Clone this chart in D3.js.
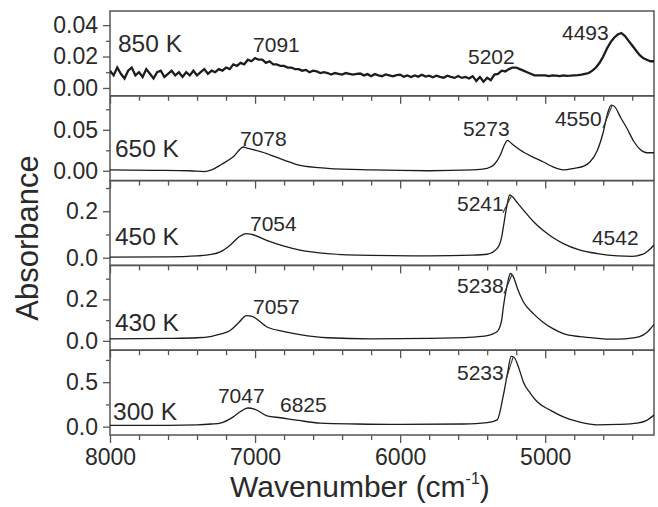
<!DOCTYPE html>
<html>
<head>
<meta charset="utf-8">
<script src="https://cdn.jsdelivr.net/npm/d3@7"></script>
<style>
  body { margin: 0; background: #fff; }
  svg { display: block; font-family: "Liberation Sans", Arial, sans-serif; }
  .frame { fill: none; stroke: #555; stroke-width: 1.5; }
  .tick line { stroke: #555; stroke-width: 1.3; }
  .tick text { fill: #2a2a2a; font-size: 23px; }
  .spec { fill: none; stroke: #1c1c1c; stroke-width: 1.3; }
  .lbl { fill: #2a2a2a; }
</style>
</head>
<body>
<svg id="chart" width="658" height="507"></svg>
<script>
"use strict";

// panels, top to bottom
var temps = ["850 K", "650 K", "450 K", "430 K", "300 K"];
var yDomains = [[-0.005, 0.049], [-0.012, 0.0915], [-0.033, 0.332], [-0.045, 0.364], [-0.094, 0.86]];
var yMajor = [[0, 0.02, 0.04], [0, 0.05], [0, 0.2], [0, 0.2], [0, 0.5]];
var yMinor = [[0.01, 0.03], [0.025, 0.075], [0.1, 0.3], [0.1, 0.3], [0.25, 0.75]];
var yFormats = [".2f", ".2f", ".1f", ".1f", ".1f"];

var wnMajor = [8000, 7000, 6000, 5000];
var wnMinor = [7800, 7600, 7400, 7200, 6800, 6600, 6400, 6200, 5800, 5600, 5400, 5200, 4800, 4600, 4400];

// 850 K, sampled every 25 cm-1 from 8000 (noisy)
var wn850Start = 8000, wn850Step = 25;
var abs850 = [
  0.011, 0.008, 0.013, 0.009, 0.006, 0.011, 0.013, 0.008, 0.010, 0.007,
  0.012, 0.009, 0.006, 0.010, 0.011, 0.007, 0.009, 0.011, 0.008, 0.010,
  0.007, 0.010, 0.008, 0.011, 0.008, 0.010, 0.012, 0.009, 0.011, 0.010,
  0.012, 0.011, 0.013, 0.012, 0.015, 0.014, 0.016, 0.015, 0.018, 0.017,
  0.019, 0.018, 0.018, 0.016, 0.017, 0.015, 0.015, 0.014, 0.014, 0.013,
  0.013, 0.012, 0.012, 0.011, 0.0115, 0.010, 0.011, 0.0105, 0.0095, 0.010,
  0.0095, 0.0085, 0.0095, 0.009, 0.0085, 0.0095, 0.009, 0.0085, 0.009, 0.0092,
  0.008, 0.0088, 0.0075, 0.0088, 0.008, 0.0075, 0.0086, 0.008, 0.0074, 0.0082,
  0.0085, 0.0072, 0.008, 0.007, 0.008, 0.0072, 0.0084, 0.0072, 0.0078, 0.0068,
  0.0078, 0.007, 0.0065, 0.0078, 0.007, 0.0064, 0.0076, 0.0064, 0.007, 0.006,
  0.0075, 0.0045, 0.007, 0.004, 0.0065, 0.005, 0.0085, 0.009, 0.011, 0.0105,
  0.012, 0.013, 0.013, 0.012, 0.011, 0.010, 0.009, 0.008, 0.008, 0.008,
  0.008, 0.0075, 0.008, 0.0078, 0.0075, 0.008, 0.0077, 0.0078, 0.008, 0.0082,
  0.0085, 0.009, 0.0095, 0.011, 0.013, 0.016, 0.020, 0.025, 0.029, 0.032,
  0.034, 0.035, 0.033, 0.030, 0.027, 0.024, 0.021, 0.019, 0.018, 0.017,
  0.017
];

var abs650 = [
  [8000, 0.001], [7700, 0.0005], [7450, 0.000], [7350, -0.001], [7300, 0.001],
  [7230, 0.008], [7150, 0.017], [7080, 0.029], [7060, 0.028], [6920, 0.021],
  [6800, 0.013], [6690, 0.0065], [6500, 0.003], [6200, 0.001], [5800, 0.000],
  [5500, 0.001], [5400, 0.003], [5350, 0.008], [5310, 0.019], [5280, 0.032],
  [5260, 0.037], [5230, 0.033], [5170, 0.025], [5100, 0.018], [5015, 0.011],
  [4950, 0.005], [4875, 0.001], [4800, 0.003], [4730, 0.006], [4690, 0.011],
  [4640, 0.025], [4600, 0.047], [4570, 0.070], [4545, 0.080], [4520, 0.078],
  [4480, 0.065], [4434, 0.051], [4390, 0.036], [4345, 0.026], [4300, 0.022],
  [4250, 0.022]
];

var abs450 = [
  [8000, 0.003], [7600, 0.004], [7400, 0.008], [7300, 0.014], [7240, 0.025],
  [7170, 0.055], [7110, 0.090], [7060, 0.104], [7020, 0.100], [6920, 0.075],
  [6800, 0.050], [6690, 0.033], [6500, 0.018], [6200, 0.010], [5800, 0.008],
  [5500, 0.011], [5400, 0.015], [5331, 0.040], [5300, 0.090], [5290, 0.126],
  [5265, 0.220], [5245, 0.270], [5225, 0.262], [5190, 0.235], [5150, 0.205],
  [5080, 0.155], [5015, 0.118], [4950, 0.088], [4875, 0.061], [4760, 0.033],
  [4640, 0.018], [4500, 0.008], [4400, 0.006], [4330, 0.014], [4290, 0.030],
  [4250, 0.055]
];

var abs430 = [
  [8000, 0.010], [7600, 0.012], [7400, 0.015], [7300, 0.022], [7240, 0.032],
  [7172, 0.050], [7110, 0.090], [7060, 0.122], [7020, 0.118], [6917, 0.067],
  [6800, 0.045], [6690, 0.030], [6500, 0.015], [6200, 0.010], [5800, 0.012],
  [5500, 0.018], [5400, 0.025], [5331, 0.045], [5300, 0.100], [5290, 0.155],
  [5262, 0.270], [5240, 0.325], [5220, 0.310], [5190, 0.250], [5152, 0.190],
  [5080, 0.130], [5015, 0.090], [4950, 0.060], [4875, 0.035], [4760, 0.020],
  [4640, 0.012], [4550, 0.008], [4450, 0.010], [4350, 0.020], [4300, 0.040],
  [4276, 0.057], [4250, 0.080]
];

var abs300 = [
  [8000, 0.015], [7600, 0.015], [7400, 0.020], [7300, 0.030], [7240, 0.040],
  [7150, 0.110], [7100, 0.170], [7050, 0.210], [7000, 0.195], [6917, 0.120],
  [6825, 0.100], [6700, 0.070], [6550, 0.040], [6300, 0.030], [6000, 0.025],
  [5565, 0.030], [5400, 0.045], [5331, 0.076], [5290, 0.340], [5260, 0.600],
  [5235, 0.790], [5215, 0.780], [5180, 0.650], [5150, 0.500], [5100, 0.370],
  [5055, 0.280], [4960, 0.180], [4875, 0.110], [4760, 0.050], [4640, 0.020],
  [4500, 0.025], [4365, 0.040], [4300, 0.070], [4250, 0.130]
];

// temperature labels, anchored in data units of each panel
var tempLabelAt = [[7945, 0.0226], [7966, 0.0172], [7966, 0.0528], [7966, 0.0477], [7979, 0.076]];

// peak labels: panel, text, anchor (wavenumber, absorbance)
var peakLabels = [
  [0, "7091", 7014, 0.0226], [0, "5202", 5532, 0.0151], [0, "4493", 4884, 0.0308],
  [1, "7078", 7104, 0.0306], [1, "5273", 5567, 0.0427], [1, "4550", 4933, 0.0549],
  [2, "7054", 7035, 0.117], [2, "5241", 5608, 0.199], [2, "4542", 4678, 0.0528],
  [3, "7057", 7014, 0.130], [3, "5238", 5608, 0.233],
  [4, "7047", 7256, 0.269], [4, "6825", 6828, 0.167], [4, "5233", 5608, 0.530]
];

// short leader strokes from label to peak
var leaders = [
  [1, 4602, 0.052, 4540, 0.0792],
  [2, 5291, 0.194, 5236, 0.263],
  [3, 5284, 0.228, 5229, 0.320],
  [4, 5270, 0.530, 5222, 0.780]
];

var svg = d3.select("#chart");
var plotL = 110, plotR = 654, plotT = 11, ph = 84.8;

var x = d3.scaleLinear().domain([8000, 4250]).range([plotL, plotR]);

var series = [
  abs850.map(function(v, i) { return [wn850Start - i * wn850Step, v]; }),
  abs650, abs450, abs430, abs300
];

var ys = yDomains.map(function(dom, i) {
  var y0 = plotT + i * ph;
  return d3.scaleLinear().domain(dom).range([y0 + ph, y0]);
});

ys.forEach(function(y, i) {
  var y0 = plotT + i * ph;
  var g = svg.append("g");

  g.append("clipPath").attr("id", "clip" + i)
    .append("rect").attr("x", plotL).attr("y", y0).attr("width", plotR - plotL).attr("height", ph);

  // bottom ticks
  var ax = g.append("g").attr("transform", "translate(0," + (y0 + ph) + ")");
  ax.call(d3.axisBottom(x).tickValues(wnMinor).tickSize(5).tickFormat(""));
  ax.append("g").call(d3.axisBottom(x).tickValues(wnMajor).tickSize(8).tickPadding(6)
    .tickFormat(i === 4 ? d3.format("d") : ""));

  // left ticks
  var ay = g.append("g").attr("transform", "translate(" + plotL + ",0)");
  ay.call(d3.axisLeft(y).tickValues(yMinor[i]).tickSize(4).tickFormat(""));
  ay.append("g").call(d3.axisLeft(y).tickValues(yMajor[i]).tickSize(7).tickPadding(5)
    .tickFormat(d3.format(yFormats[i])));

  g.selectAll(".domain").remove();

  g.append("rect").attr("class", "frame")
    .attr("x", plotL).attr("y", y0).attr("width", plotR - plotL).attr("height", ph);

  var line = d3.line()
    .x(function(d) { return x(d[0]); })
    .y(function(d) { return y(d[1]); })
    .curve(i === 0 ? d3.curveLinear : d3.curveMonotoneX);

  g.append("path").attr("class", "spec")
    .attr("clip-path", "url(#clip" + i + ")")
    .style("stroke-width", i === 0 ? 2.3 : 1.3)
    .attr("d", line(series[i]));

  g.append("text").attr("class", "lbl")
    .attr("x", x(tempLabelAt[i][0])).attr("y", y(tempLabelAt[i][1]))
    .style("font-size", "24.5px")
    .text(temps[i]);
});

svg.selectAll("text.peak").data(peakLabels).enter().append("text")
  .attr("class", "lbl peak")
  .attr("x", function(d) { return x(d[2]); })
  .attr("y", function(d) { return ys[d[0]](d[3]); })
  .style("font-size", "21px")
  .text(function(d) { return d[1]; });

svg.selectAll("line.leader").data(leaders).enter().append("line")
  .attr("class", "leader")
  .attr("x1", function(d) { return x(d[1]); })
  .attr("y1", function(d) { return ys[d[0]](d[2]); })
  .attr("x2", function(d) { return x(d[3]); })
  .attr("y2", function(d) { return ys[d[0]](d[4]); })
  .style("stroke", "#333").style("stroke-width", 1.1);

// axis titles
svg.append("text").attr("class", "lbl")
  .attr("transform", "translate(38,238) rotate(-90)")
  .attr("text-anchor", "middle")
  .style("font-size", "31px")
  .text("Absorbance");

var xt = svg.append("text").attr("class", "lbl")
  .attr("x", 230).attr("y", 497)
  .style("font-size", "30px");
xt.append("tspan").text("Wavenumber (cm");
xt.append("tspan").attr("dy", -13).style("font-size", "16px").text("-1");
xt.append("tspan").attr("dy", 13).text(")");
</script>
</body>
</html>
